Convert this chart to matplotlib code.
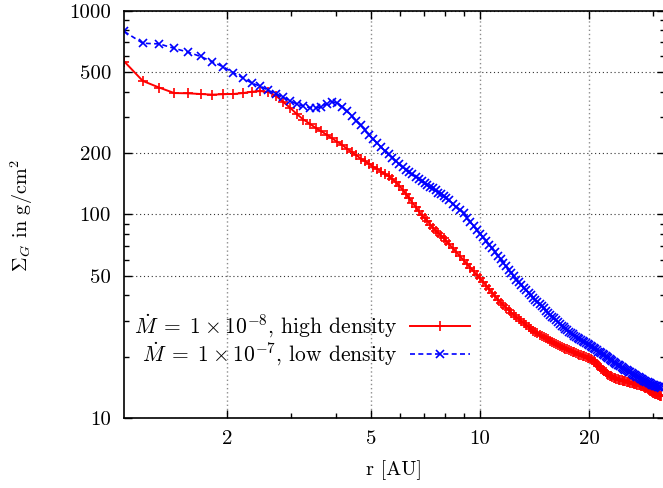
import matplotlib
matplotlib.use("Agg")
import matplotlib.pyplot as plt
from matplotlib.ticker import FixedLocator, LogLocator, NullFormatter, FixedFormatter

# radius grid [AU]
r = [1.04, 1.17, 1.30, 1.43, 1.56, 1.69, 1.82, 1.95, 2.08, 2.21, 2.34, 2.47,
     2.60, 2.73, 2.86, 2.99, 3.12, 3.25, 3.38, 3.51, 3.64, 3.77, 3.90, 4.03,
     4.16, 4.29, 4.42, 4.55, 4.68, 4.81, 4.94, 5.07, 5.20, 5.33, 5.46, 5.59,
     5.72, 5.85, 5.98, 6.11, 6.24, 6.37, 6.50, 6.63, 6.76, 6.89, 7.02, 7.15,
     7.28, 7.41, 7.54, 7.67, 7.80, 7.93, 8.06,
     8.2, 8.4, 8.6, 8.8, 9.0, 9.2, 9.4, 9.6, 9.8, 10.0,
     10.2, 10.4, 10.6, 10.8, 11.0, 11.2, 11.4, 11.6, 11.8, 12.0,
     12.2, 12.4, 12.6, 12.8, 13.0, 13.2, 13.4, 13.6, 13.8, 14.0,
     14.2, 14.4, 14.6, 14.8, 15.0, 15.2, 15.4, 15.6, 15.8, 16.0,
     16.2, 16.4, 16.6, 16.8, 17.0, 17.2, 17.4, 17.6, 17.8, 18.0,
     18.2, 18.4, 18.6, 18.8, 19.0, 19.2, 19.4, 19.6, 19.8, 20.0,
     20.2, 20.4, 20.6, 20.8, 21.0, 21.2, 21.4, 21.6, 21.8, 22.0,
     22.2, 22.4, 22.6, 22.8, 23.0, 23.2, 23.4, 23.6, 23.8, 24.0,
     24.2, 24.4, 24.6, 24.8, 25.0, 25.2, 25.4, 25.6, 25.8, 26.0,
     26.2, 26.4, 26.6, 26.8, 27.0, 27.2, 27.4, 27.6, 27.8, 28.0,
     28.2, 28.4, 28.6, 28.8, 29.0, 29.2, 29.4, 29.6, 29.8, 30.0,
     30.2, 30.4, 30.6, 30.8, 31.0, 31.2, 31.4, 31.6]

# Mdot = 1e-8, high density
sigma_high = [563, 452, 419, 394, 393, 390, 387, 389, 390, 394, 400, 403,
              399, 382, 356, 333, 310, 292, 279, 266, 256, 246, 236, 227,
              219, 210, 202, 195, 188, 182, 177, 171, 167, 162, 158, 154,
              149, 144, 138, 132, 126, 120, 114, 109, 104, 99, 96, 93,
              89, 86, 83, 81, 78.5, 76.5, 74,
              71.6, 68.2, 65.2, 62.3, 59.6, 57.1, 54.8, 52.5, 50.4, 48.5,
              46.5, 44.6, 42.8, 41.2, 39.6, 38.1, 36.9, 35.8, 34.8, 33.8,
              32.9, 32.0, 31.2, 30.5, 29.8, 29.2, 28.6, 28.0, 27.3, 26.8,
              26.4, 26.0, 25.6, 25.3, 24.9, 24.6, 24.3, 24.0, 23.7, 23.45,
              23.2, 22.9, 22.65, 22.4, 22.15, 21.9, 21.7, 21.5, 21.35, 21.2,
              21.0, 20.85, 20.7, 20.5, 20.35, 20.2, 20.05, 19.9, 19.75, 19.6,
              19.4, 19.2, 19.0, 18.8, 18.5, 18.1, 17.8, 17.5, 17.2, 17.0,
              16.75, 16.5, 16.3, 16.1, 16.0, 15.9, 15.8, 15.7, 15.6, 15.5,
              15.45, 15.37, 15.31, 15.26, 15.2, 15.14, 15.08, 15.03, 14.97, 14.91,
              14.86, 14.8, 14.74, 14.69, 14.63, 14.58, 14.52, 14.47, 14.41, 14.36,
              14.3, 14.19, 14.08, 13.97, 13.86, 13.74, 13.63, 13.52, 13.41, 13.3,
              13.24, 13.17, 13.11, 13.05, 12.98, 12.92, 12.86, 12.8]

# Mdot = 1e-7, low density
sigma_low = [791, 692, 687, 653, 626, 596, 562, 530, 497, 468, 441, 426,
             406, 391, 376, 360, 348, 341, 334, 333, 338, 349, 357, 352,
             337, 320, 304, 288, 274, 260, 246, 234, 223, 213, 204, 197,
             190, 182, 176, 171, 166, 161, 157, 153, 149, 145, 142, 139,
             136, 134, 131, 128, 126, 123, 120,
             117.0, 112.8, 108.8, 105.0, 101.0, 96.2, 91.8, 87.6, 83.7, 80.2,
             77.0, 74.0, 71.1, 68.1, 65.3, 62.6, 60.2, 57.8, 55.6, 53.5,
             51.4, 49.6, 47.8, 46.4, 45.0, 43.7, 42.4, 41.2, 40.0, 38.9,
             37.9, 37.0, 36.2, 35.3, 34.5, 33.7, 32.9, 32.2, 31.5, 30.9,
             30.2, 29.6, 29.0, 28.4, 27.9, 27.4, 26.9, 26.5, 26.2, 25.8,
             25.4, 25.1, 24.75, 24.4, 24.1, 23.8, 23.5, 23.25, 22.97, 22.7,
             22.45, 22.2, 21.95, 21.7, 21.5, 21.2, 21.0, 20.8, 20.6, 20.35,
             20.15, 19.9, 19.7, 19.47, 19.27, 19.07, 18.87, 18.69, 18.5, 18.3,
             18.13, 17.95, 17.78, 17.6, 17.45, 17.3, 17.15, 17.0, 16.87, 16.73,
             16.6, 16.45, 16.32, 16.2, 16.06, 15.94, 15.81, 15.7, 15.6, 15.49,
             15.38, 15.28, 15.18, 15.08, 14.98, 14.88, 14.79, 14.69, 14.6, 14.5,
             14.45, 14.4, 14.34, 14.29, 14.24, 14.18, 14.13, 14.08]

label_high = r'$\dot{M}\;=\;1 \times 10^{-8}$, high density'
label_low = r'$\dot{M}\;=\;1 \times 10^{-7}$, low density'

xticks = [2, 5, 10, 20]
xticklabels = ['2', '5', '10', '20']
yticks = [10, 50, 100, 200, 500, 1000]
yticklabels = ['10', '50', '100', '200', '500', '1000']

plt.rcParams['font.family'] = 'serif'
plt.rcParams['font.serif'] = ['cmr10']
plt.rcParams['mathtext.fontset'] = 'cm'
plt.rcParams['axes.unicode_minus'] = False
plt.rcParams['axes.formatter.use_mathtext'] = True

fig = plt.figure(figsize=(6.63, 4.88), dpi=100)
ax = fig.add_axes([123.5 / 663, 70 / 488, 541.5 / 663, 407.3 / 488])

ax.plot(r, sigma_high, color='#ff0000', lw=1.4, marker='+', ms=6.5, mew=1.2,
        label=label_high)
ax.plot(r, sigma_low, color='#0000ff', lw=1.2, ls=(0, (3, 2)), marker='x',
        ms=6, mew=1.2, label=label_low)

ax.set_xscale('log')
ax.set_yscale('log')
ax.set_xlim(1.035, 32.4)
ax.set_ylim(10, 1000)

ax.xaxis.set_major_locator(FixedLocator(xticks))
ax.xaxis.set_major_formatter(FixedFormatter(xticklabels))
ax.xaxis.set_minor_locator(LogLocator(subs=range(1, 10)))
ax.xaxis.set_minor_formatter(NullFormatter())
ax.yaxis.set_major_locator(FixedLocator(yticks))
ax.yaxis.set_major_formatter(FixedFormatter(yticklabels))
ax.yaxis.set_minor_locator(LogLocator(subs=range(2, 10)))
ax.yaxis.set_minor_formatter(NullFormatter())

ax.tick_params(which='both', direction='in', top=True, right=True,
               labelsize=15, width=1)
ax.tick_params(which='major', length=6, pad=9)
ax.tick_params(which='minor', length=3.5)

ax.grid(True, which='major', axis='x', color='0.55', ls=(0, (1, 2)), lw=1.0)
ax.grid(True, which='major', axis='y', color='0.2', ls=(0, (1, 2.5)), lw=0.8)
for s in ax.spines.values():
    s.set_linewidth(1.2)

fig.text(394 / 663, 1 - 470 / 488, 'r [AU]', ha='center', va='center', fontsize=14.5)
fig.text(22 / 663, 1 - 215 / 488, r'$\Sigma_G$ in g/cm$^2$', ha='center',
         va='center', rotation=90, fontsize=14.5)

ax.legend(loc='center right', bbox_to_anchor=(481 / 663, 1 - 340 / 488),
          bbox_transform=fig.transFigure, frameon=False, markerfirst=False,
          fontsize=15.5, handlelength=2.8, handletextpad=0.56, borderpad=0,
          labelspacing=0.0, numpoints=1)

fig.savefig('out.png', dpi=100)
